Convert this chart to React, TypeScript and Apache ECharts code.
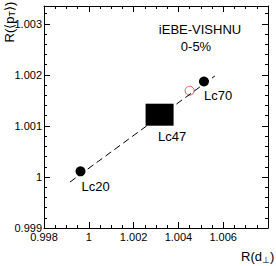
import React, { useEffect, useRef } from "react";
import * as echarts from "echarts";

const pointNames = ["Lc20", "Lc47", "Lc70"];
const pointX = [0.99963, 1.00316, 1.00514];
const pointY = [1.00011, 1.00122, 1.00187];
const pointSymbols = ["circle", "rect", "circle"];
const openX = [1.0045];
const openY = [1.00169];
const fitX = [0.99916, 1.00563];
const fitY = [0.9999, 1.00198];
const xTicks = [0.998, 1, 1.002, 1.004, 1.006];
const yTicks = [0.999, 1, 1.001, 1.002, 1.003];
const annotation = ["iEBE-VISHNU", "0-5%"];

const FONT = "Liberation Sans, Arial, Helvetica, sans-serif";

const fmt = (list: number[]) => (v: number) => {
  const hit = list.find((t) => Math.abs(t - v) < 1e-7);
  return hit === undefined ? "" : String(hit);
};

export default function App() {
  const ref = useRef<HTMLDivElement>(null);
  useEffect(() => {
    if (!ref.current) return;
    const chart = echarts.init(ref.current, null, { renderer: "svg" });
    const line = { lineStyle: { color: "#000", width: 1 } };
    const baseX = {
      type: "value",
      min: 0.998,
      max: 1.008,
      interval: 0.002,
      axisLine: { show: true, onZero: false, ...line },
      axisTick: { show: true, inside: true, length: 6, ...line },
      minorTick: { show: true, splitNumber: 4, length: 3, ...line },
      splitLine: { show: false },
    };
    const baseY = {
      type: "value",
      min: 0.999,
      max: 1.00335,
      interval: 0.001,
      offset: 0,
      axisLine: { show: true, onZero: false, ...line },
      axisTick: { show: true, inside: true, length: 6, ...line },
      splitLine: { show: false },
    };
    const minorY = {
      type: "value",
      min: 0.999,
      max: 1.00335,
      interval: 0.0002,
      offset: 0,
      axisLine: { show: false },
      axisTick: { show: true, inside: true, length: 3, ...line },
      axisLabel: { show: false },
      splitLine: { show: false },
    };
    const sizes: any[] = [10, [28, 22], 10];
    const offsets = [
      [1, 15.5],
      [-1.5, 22],
      [0, 13.5],
    ];
    chart.setOption({
      animation: false,
      grid: { left: 44, top: 6, right: 8, bottom: 38, outerBoundsMode: "none", containLabel: false },
      xAxis: [
        {
          ...baseX,
          position: "bottom",
          axisLabel: {
            show: true,
            color: "#000",
            fontSize: 11,
            fontFamily: FONT,
            margin: 3,
            formatter: fmt(xTicks),
            showMaxLabel: false,
          },
        },
        { ...baseX, position: "top", axisLabel: { show: false } },
      ],
      yAxis: [
        {
          ...baseY,
          position: "left",
          axisLabel: {
            show: true,
            color: "#000",
            fontSize: 11,
            fontFamily: FONT,
            margin: 2,
            formatter: fmt(yTicks),
          },
        },
        { ...minorY, position: "left" },
        { ...baseY, position: "right", axisLabel: { show: false } },
        { ...minorY, position: "right" },
      ],
      series: [
        {
          type: "line",
          data: fitX.map((x, i) => [x, fitY[i]]),
          symbol: "none",
          lineStyle: { color: "#000", width: 1, type: [7, 4] },
          silent: true,
        },
        {
          type: "scatter",
          data: openX.map((x, i) => [x, openY[i]]),
          symbol: "circle",
          symbolSize: 9,
          itemStyle: { color: "rgba(0,0,0,0)", borderColor: "#ee3333", borderWidth: 1 },
        },
        {
          type: "scatter",
          data: pointNames.map((n, i) => ({
            name: n,
            value: [pointX[i], pointY[i]],
            symbol: pointSymbols[i],
            symbolSize: sizes[i],
            label: {
              show: true,
              position: "inside",
              formatter: n,
              align: "left",
              verticalAlign: "middle",
              offset: offsets[i],
              color: "#000",
              fontSize: 13,
              fontFamily: FONT,
            },
          })),
          itemStyle: { color: "#000", opacity: 1 },
        },
      ],
      graphic: [
        {
          type: "text",
          x: 200,
          y: 29,
          style: {
            text: annotation[0],
            fontSize: 13,
            fontFamily: FONT,
            fill: "#000",
            textAlign: "center",
            textVerticalAlign: "middle",
          },
        },
        {
          type: "text",
          x: 196,
          y: 46,
          style: {
            text: annotation[1],
            fontSize: 13,
            fontFamily: FONT,
            fill: "#000",
            textAlign: "center",
            textVerticalAlign: "middle",
          },
        },
        {
          type: "text",
          x: 9,
          y: 22,
          rotation: Math.PI / 2,
          style: {
            text: "R(⟨p{s|T}⟩)",
            rich: { s: { fontSize: 9, fontFamily: FONT, fill: "#000", padding: [6, 0, 0, 0] } },
            fontSize: 13,
            fontFamily: FONT,
            fill: "#000",
            textAlign: "center",
            textVerticalAlign: "middle",
          },
        },
        {
          type: "text",
          x: 241,
          y: 256,
          style: {
            text: "R(d{s|⊥})",
            rich: { s: { fontSize: 9, fontFamily: FONT, fill: "#000", padding: [7, 0, 0, 0] } },
            fontSize: 13,
            fontFamily: FONT,
            fill: "#000",
            textAlign: "left",
            textVerticalAlign: "middle",
          },
        },
      ],
    });
    return () => chart.dispose();
  }, []);
  return (
    <div
      ref={ref}
      style={{ position: "absolute", left: 0, top: 0, width: 276, height: 266, background: "#fff" }}
    />
  );
}
